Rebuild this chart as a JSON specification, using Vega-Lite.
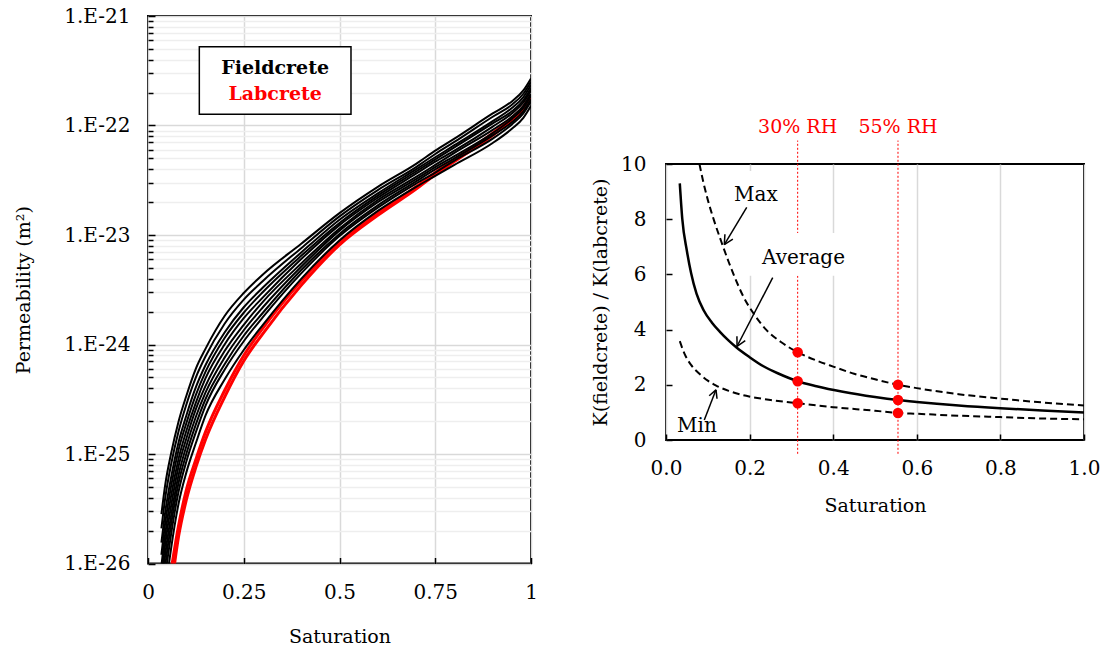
{
  "$schema": "https://vega.github.io/schema/vega-lite/v6.json",
  "background": "white",
  "padding": {"left": 13, "top": 5, "right": 0, "bottom": 0},
  "config": {
    "font": "DejaVu Serif",
    "view": {"stroke": "black", "strokeWidth": 2},
    "axis": {"domain": false, "labelFont": "DejaVu Serif", "titleFont": "DejaVu Serif", "labelFontSize": 20, "titleFontSize": 19, "titleFontWeight": "normal", "labelColor": "black", "titleColor": "black", "gridColor": "#d9d9d9", "gridWidth": 1.5, "tickColor": "black", "tickWidth": 1.5, "labelFlush": false, "labelOverlap": false}
  },
  "datasets": {
    "black": [
      {"s":0.035,"F1":-25.55,"F2":-25.68,"F3":-25.81,"F4":-25.92,"F5":-26.02,"F6":-26.13,"F7":-26.23,"F8":-26.34,"F9":-26.44,"F10":-26.60},
      {"s":0.045,"F1":-25.28,"F2":-25.40,"F3":-25.53,"F4":-25.63,"F5":-25.73,"F6":-25.82,"F7":-25.92,"F8":-26.02,"F9":-26.12,"F10":-26.27},
      {"s":0.06,"F1":-25.00,"F2":-25.10,"F3":-25.22,"F4":-25.30,"F5":-25.39,"F6":-25.48,"F7":-25.57,"F8":-25.65,"F9":-25.74,"F10":-25.87},
      {"s":0.08,"F1":-24.70,"F2":-24.79,"F3":-24.89,"F4":-24.96,"F5":-25.04,"F6":-25.11,"F7":-25.19,"F8":-25.26,"F9":-25.34,"F10":-25.45},
      {"s":0.1,"F1":-24.47,"F2":-24.55,"F3":-24.65,"F4":-24.72,"F5":-24.79,"F6":-24.86,"F7":-24.93,"F8":-25.00,"F9":-25.07,"F10":-25.17},
      {"s":0.125,"F1":-24.22,"F2":-24.30,"F3":-24.39,"F4":-24.46,"F5":-24.53,"F6":-24.59,"F7":-24.66,"F8":-24.73,"F9":-24.80,"F10":-24.90},
      {"s":0.15,"F1":-24.04,"F2":-24.11,"F3":-24.19,"F4":-24.25,"F5":-24.31,"F6":-24.38,"F7":-24.44,"F8":-24.50,"F9":-24.56,"F10":-24.65},
      {"s":0.2,"F1":-23.74,"F2":-23.81,"F3":-23.89,"F4":-23.94,"F5":-24.00,"F6":-24.06,"F7":-24.12,"F8":-24.18,"F9":-24.23,"F10":-24.32},
      {"s":0.25,"F1":-23.53,"F2":-23.59,"F3":-23.66,"F4":-23.71,"F5":-23.76,"F6":-23.82,"F7":-23.87,"F8":-23.92,"F9":-23.97,"F10":-24.05},
      {"s":0.3,"F1":-23.36,"F2":-23.42,"F3":-23.48,"F4":-23.52,"F5":-23.57,"F6":-23.61,"F7":-23.66,"F8":-23.71,"F9":-23.75,"F10":-23.82},
      {"s":0.4,"F1":-23.08,"F2":-23.12,"F3":-23.16,"F4":-23.19,"F5":-23.22,"F6":-23.26,"F7":-23.29,"F8":-23.32,"F9":-23.35,"F10":-23.40},
      {"s":0.5,"F1":-22.80,"F2":-22.83,"F3":-22.86,"F4":-22.89,"F5":-22.91,"F6":-22.94,"F7":-22.96,"F8":-22.99,"F9":-23.01,"F10":-23.05},
      {"s":0.6,"F1":-22.56,"F2":-22.59,"F3":-22.62,"F4":-22.64,"F5":-22.66,"F6":-22.68,"F7":-22.70,"F8":-22.73,"F9":-22.75,"F10":-22.78},
      {"s":0.7,"F1":-22.35,"F2":-22.38,"F3":-22.40,"F4":-22.42,"F5":-22.44,"F6":-22.47,"F7":-22.49,"F8":-22.51,"F9":-22.53,"F10":-22.56},
      {"s":0.75,"F1":-22.23,"F2":-22.26,"F3":-22.29,"F4":-22.31,"F5":-22.33,"F6":-22.36,"F7":-22.38,"F8":-22.40,"F9":-22.43,"F10":-22.46},
      {"s":0.8,"F1":-22.12,"F2":-22.15,"F3":-22.18,"F4":-22.20,"F5":-22.23,"F6":-22.25,"F7":-22.28,"F8":-22.30,"F9":-22.32,"F10":-22.36},
      {"s":0.9,"F1":-21.89,"F2":-21.92,"F3":-21.96,"F4":-21.98,"F5":-22.01,"F6":-22.04,"F7":-22.07,"F8":-22.09,"F9":-22.12,"F10":-22.16},
      {"s":0.95,"F1":-21.78,"F2":-21.81,"F3":-21.84,"F4":-21.87,"F5":-21.89,"F6":-21.92,"F7":-21.94,"F8":-21.97,"F9":-21.99,"F10":-22.03},
      {"s":0.98,"F1":-21.68,"F2":-21.71,"F3":-21.74,"F4":-21.77,"F5":-21.79,"F6":-21.82,"F7":-21.84,"F8":-21.87,"F9":-21.89,"F10":-21.93},
      {"s":1,"F1":-21.57,"F2":-21.60,"F3":-21.63,"F4":-21.66,"F5":-21.68,"F6":-21.71,"F7":-21.73,"F8":-21.76,"F9":-21.78,"F10":-21.82}
    ],
    "red": [
      {"s":0.06,"R1":-26.07,"R2":-26.25},
      {"s":0.08,"R1":-25.65,"R2":-25.75},
      {"s":0.1,"R1":-25.33,"R2":-25.42},
      {"s":0.125,"R1":-25.05,"R2":-25.12},
      {"s":0.15,"R1":-24.80,"R2":-24.87},
      {"s":0.2,"R1":-24.42,"R2":-24.48},
      {"s":0.25,"R1":-24.10,"R2":-24.15},
      {"s":0.3,"R1":-23.85,"R2":-23.90},
      {"s":0.4,"R1":-23.42,"R2":-23.46},
      {"s":0.5,"R1":-23.06,"R2":-23.09},
      {"s":0.6,"R1":-22.80,"R2":-22.82},
      {"s":0.7,"R1":-22.56,"R2":-22.58},
      {"s":0.75,"R1":-22.43,"R2":-22.45},
      {"s":0.8,"R1":-22.31,"R2":-22.33},
      {"s":0.9,"R1":-22.07,"R2":-22.09},
      {"s":0.95,"R1":-21.93,"R2":-21.95},
      {"s":0.98,"R1":-21.83,"R2":-21.85},
      {"s":1,"R1":-21.72,"R2":-21.74}
    ],
    "ratio": [
      {"series":"Average","s":0.033,"r":9.3},
      {"series":"Average","s":0.039,"r":8.0},
      {"series":"Average","s":0.05,"r":6.85},
      {"series":"Average","s":0.06,"r":6.05},
      {"series":"Average","s":0.073,"r":5.3},
      {"series":"Average","s":0.09,"r":4.7},
      {"series":"Average","s":0.11,"r":4.25},
      {"series":"Average","s":0.129,"r":3.92},
      {"series":"Average","s":0.15,"r":3.6},
      {"series":"Average","s":0.168,"r":3.36},
      {"series":"Average","s":0.2,"r":3.0},
      {"series":"Average","s":0.232,"r":2.68},
      {"series":"Average","s":0.27,"r":2.4},
      {"series":"Average","s":0.315,"r":2.13},
      {"series":"Average","s":0.36,"r":1.95},
      {"series":"Average","s":0.423,"r":1.75},
      {"series":"Average","s":0.5,"r":1.56},
      {"series":"Average","s":0.555,"r":1.45},
      {"series":"Average","s":0.6,"r":1.38},
      {"series":"Average","s":0.7,"r":1.25},
      {"series":"Average","s":0.8,"r":1.15},
      {"series":"Average","s":0.9,"r":1.07},
      {"series":"Average","s":1.0,"r":1.0},
      {"series":"Max","s":0.08,"r":10.0},
      {"series":"Max","s":0.09,"r":9.3},
      {"series":"Max","s":0.1,"r":8.7},
      {"series":"Max","s":0.115,"r":7.95},
      {"series":"Max","s":0.132,"r":7.2},
      {"series":"Max","s":0.15,"r":6.45},
      {"series":"Max","s":0.163,"r":5.95},
      {"series":"Max","s":0.185,"r":5.2},
      {"series":"Max","s":0.211,"r":4.55},
      {"series":"Max","s":0.24,"r":3.99},
      {"series":"Max","s":0.275,"r":3.55},
      {"series":"Max","s":0.315,"r":3.18},
      {"series":"Max","s":0.36,"r":2.88},
      {"series":"Max","s":0.4,"r":2.66},
      {"series":"Max","s":0.45,"r":2.4},
      {"series":"Max","s":0.5,"r":2.2},
      {"series":"Max","s":0.555,"r":2.0},
      {"series":"Max","s":0.6,"r":1.88},
      {"series":"Max","s":0.7,"r":1.66},
      {"series":"Max","s":0.8,"r":1.5},
      {"series":"Max","s":0.9,"r":1.36},
      {"series":"Max","s":1.0,"r":1.25},
      {"series":"Min","s":0.033,"r":3.58},
      {"series":"Min","s":0.045,"r":3.1},
      {"series":"Min","s":0.06,"r":2.72},
      {"series":"Min","s":0.08,"r":2.4},
      {"series":"Min","s":0.1,"r":2.15},
      {"series":"Min","s":0.12,"r":1.97},
      {"series":"Min","s":0.15,"r":1.78},
      {"series":"Min","s":0.192,"r":1.6},
      {"series":"Min","s":0.25,"r":1.45},
      {"series":"Min","s":0.315,"r":1.33},
      {"series":"Min","s":0.4,"r":1.19},
      {"series":"Min","s":0.5,"r":1.06},
      {"series":"Min","s":0.555,"r":0.98},
      {"series":"Min","s":0.6,"r":0.95},
      {"series":"Min","s":0.7,"r":0.88},
      {"series":"Min","s":0.8,"r":0.83},
      {"series":"Min","s":0.9,"r":0.78},
      {"series":"Min","s":1.0,"r":0.75}
    ],
    "dots": [
      {"s":0.315,"r":3.18},{"s":0.315,"r":2.13},{"s":0.315,"r":1.33},
      {"s":0.555,"r":2.0},{"s":0.555,"r":1.45},{"s":0.555,"r":0.98}
    ],
    "rh": [
      {"s":0.315,"label":"30% RH"},
      {"s":0.555,"label":"55% RH"}
    ],
    "arrows": [
      {"s":0.1931,"r":8.425,"s2":0.1395,"r2":7.08},
      {"s":0.1395,"r":7.08,"s2":0.160,"r2":7.276},
      {"s":0.1395,"r":7.08,"s2":0.1409,"r2":7.455},
      {"s":0.2553,"r":5.88,"s2":0.170,"r2":3.396},
      {"s":0.170,"r":3.396,"s2":0.1896,"r2":3.602},
      {"s":0.170,"r":3.396,"s2":0.1697,"r2":3.76},
      {"s":0.0916,"r":0.727,"s2":0.1196,"r2":1.818},
      {"s":0.1196,"r":1.818,"s2":0.1033,"r2":1.604},
      {"s":0.1196,"r":1.818,"s2":0.1221,"r2":1.495}
    ]
  },
  "spacing": 51,
  "hconcat": [
    {
      "width": 383,
      "height": 547.5,
      "layer": [
        {
          "data": {"name": "red"},
          "transform": [{"fold": ["R1", "R2"], "as": ["curve", "logK"]}],
          "mark": {"type": "line", "color": "#ff0000", "strokeWidth": 3, "clip": true, "interpolate": "monotone"},
          "encoding": {
            "x": {"field": "s", "type": "quantitative", "scale": {"domain": [0, 1], "nice": false},
              "axis": {"title": "Saturation", "values": [0, 0.25, 0.5, 0.75, 1], "format": ".2~g", "labelOverlap": false, "tickSize": -6, "labelPadding": 25, "titlePadding": 25}},
            "y": {"field": "logK", "type": "quantitative", "scale": {"domain": [-26, -21], "nice": false, "zero": false},
              "axis": {"title": "Permeability (m²)",
                "values": [-26, -25.699, -25.523, -25.398, -25.301, -25.222, -25.155, -25.097, -25.046,
                           -25, -24.699, -24.523, -24.398, -24.301, -24.222, -24.155, -24.097, -24.046,
                           -24, -23.699, -23.523, -23.398, -23.301, -23.222, -23.155, -23.097, -23.046,
                           -23, -22.699, -22.523, -22.398, -22.301, -22.222, -22.155, -22.097, -22.046,
                           -22, -21.699, -21.523, -21.398, -21.301, -21.222, -21.155, -21.097, -21.046, -21],
                "tickCount": 200,
                "labelExpr": "abs(datum.value - round(datum.value)) < 0.001 ? '1.E' + round(datum.value) : ''",
                "labelOverlap": false,
                "gridColor": {"condition": {"test": "abs(datum.value - round(datum.value)) < 0.001", "value": "#d9d9d9"}, "value": "#eeeeee"},
                "tickSize": {"condition": {"test": "abs(datum.value - round(datum.value)) < 0.001", "value": -7}, "value": -5},
                "labelPadding": 25, "titlePadding": 30}},
            "detail": {"field": "curve"}
          }
        },
        {
          "data": {"name": "black"},
          "transform": [{"fold": ["F1", "F2", "F3", "F4", "F5", "F6", "F7", "F8", "F9", "F10"], "as": ["curve", "logK"]}],
          "mark": {"type": "line", "color": "black", "strokeWidth": 2, "clip": true, "interpolate": "monotone"},
          "encoding": {
            "x": {"field": "s", "type": "quantitative"},
            "y": {"field": "logK", "type": "quantitative"},
            "detail": {"field": "curve"}
          }
        },
        {
          "data": {"values": [{}]},
          "mark": {"type": "rect", "fill": "white", "stroke": "black", "strokeWidth": 1.5},
          "encoding": {"x": {"datum": 0.134}, "x2": {"datum": 0.53}, "y": {"datum": -21.28}, "y2": {"datum": -21.898}}
        },
        {
          "data": {"values": [{}]},
          "mark": {"type": "text", "text": "Fieldcrete", "font": "DejaVu Serif", "fontWeight": "bold", "fontSize": 19, "color": "black", "baseline": "middle"},
          "encoding": {"x": {"datum": 0.332}, "y": {"datum": -21.472}}
        },
        {
          "data": {"values": [{}]},
          "mark": {"type": "text", "text": "Labcrete", "font": "DejaVu Serif", "fontWeight": "bold", "fontSize": 19, "color": "#ff0000", "baseline": "middle"},
          "encoding": {"x": {"datum": 0.332}, "y": {"datum": -21.715}}
        }
      ]
    },
    {
      "spacing": 0,
      "vconcat": [
        {
          "width": 418,
          "height": 100,
          "view": {"stroke": null},
          "data": {"values": []},
          "mark": "point"
        },
        {
          "width": 418,
          "height": 276,
          "layer": [
            {
              "data": {"name": "rh"},
              "mark": {"type": "rule", "color": "#ff0000", "strokeWidth": 1, "strokeDash": [2, 2]},
              "encoding": {
                "x": {"field": "s", "type": "quantitative", "scale": {"domain": [0, 1], "nice": false},
                  "axis": {"title": "Saturation", "values": [0, 0.2, 0.4, 0.6, 0.8, 1], "format": ".1f", "labelOverlap": false, "tickSize": -6, "labelPadding": 24, "titlePadding": 18}},
                "y": {"datum": -0.5, "type": "quantitative", "scale": {"domain": [0, 10], "nice": false},
                  "axis": {"title": "K(fieldcrete) / K(labcrete)", "values": [0, 2, 4, 6, 8, 10], "format": "d", "labelOverlap": false, "tickSize": -6, "labelPadding": 26, "titlePadding": 10}},
                "y2": {"datum": 10.85}
              }
            },
            {
              "data": {"name": "rh"},
              "mark": {"type": "text", "color": "#ff0000", "fontSize": 19, "font": "DejaVu Serif", "baseline": "middle"},
              "encoding": {
                "x": {"field": "s", "type": "quantitative"},
                "y": {"datum": 11.35},
                "text": {"field": "label"}
              }
            },
            {
              "data": {"values": [{}]},
              "mark": {"type": "rect", "fill": "white"},
              "encoding": {"x": {"datum": 0.195}, "x2": {"datum": 0.31}, "y": {"datum": 7.5}, "y2": {"datum": 9.75}}
            },
            {
              "data": {"values": [{}]},
              "mark": {"type": "rect", "fill": "white"},
              "encoding": {"x": {"datum": 0.18}, "x2": {"datum": 0.485}, "y": {"datum": 5.95}, "y2": {"datum": 7.5}}
            },
            {
              "data": {"name": "ratio"},
              "transform": [{"filter": "datum.series === 'Average'"}],
              "mark": {"type": "line", "color": "black", "strokeWidth": 2.5, "interpolate": "monotone"},
              "encoding": {
                "x": {"field": "s", "type": "quantitative"},
                "y": {"field": "r", "type": "quantitative"}
              }
            },
            {
              "data": {"name": "ratio"},
              "transform": [{"filter": "datum.series !== 'Average'"}],
              "mark": {"type": "line", "color": "black", "strokeWidth": 2, "strokeDash": [7, 4], "interpolate": "monotone"},
              "encoding": {
                "x": {"field": "s", "type": "quantitative"},
                "y": {"field": "r", "type": "quantitative"},
                "detail": {"field": "series"}
              }
            },
            {
              "data": {"name": "dots"},
              "mark": {"type": "circle", "color": "#ff0000", "opacity": 1, "size": 110},
              "encoding": {
                "x": {"field": "s", "type": "quantitative"},
                "y": {"field": "r", "type": "quantitative"}
              }
            },
            {
              "data": {"name": "arrows"},
              "mark": {"type": "rule", "color": "black", "strokeWidth": 1.5},
              "encoding": {
                "x": {"field": "s", "type": "quantitative"},
                "y": {"field": "r", "type": "quantitative"},
                "x2": {"field": "s2"},
                "y2": {"field": "r2"}
              }
            },
            {
              "data": {"values": [{"label": "Max", "s": 0.215, "r": 8.89}, {"label": "Average", "s": 0.329, "r": 6.61}, {"label": "Min", "s": 0.074, "r": 0.49}]},
              "mark": {"type": "text", "color": "black", "fontSize": 20, "font": "DejaVu Serif", "baseline": "middle"},
              "encoding": {
                "x": {"field": "s", "type": "quantitative"},
                "y": {"field": "r", "type": "quantitative"},
                "text": {"field": "label"}
              }
            }
          ]
        }
      ]
    }
  ]
}
